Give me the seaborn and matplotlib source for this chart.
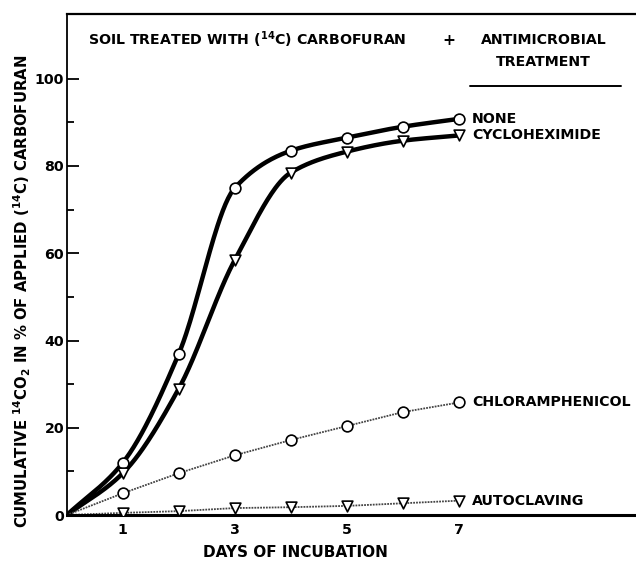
#%% import tools and libraries
import numpy as np
import pandas as pd
import seaborn as sb
import matplotlib
matplotlib.use('Agg')
import matplotlib.pyplot as plt
from matplotlib.lines import Line2D

#%% data (% of applied 14C released as 14CO2)
days = [0, 1, 2, 3, 4, 5, 6, 7]
none = [0, 12, 37, 75, 83.5, 86.5, 89, 90.8]
cycloheximide = [0, 9.6, 29, 58.5, 78.5, 83.3, 85.8, 87]
chloramphenicol = [0, 5.0, 9.6, 13.7, 17.2, 20.4, 23.6, 25.8]
autoclaving = [0, 0.5, 0.9, 1.6, 1.8, 2.1, 2.7, 3.3]

treatments = ['NONE', 'CYCLOHEXIMIDE', 'CHLORAMPHENICOL', 'AUTOCLAVING']
series = [none, cycloheximide, chloramphenicol, autoclaving]
x_ticks = [1, 3, 5, 7]
y_ticks = [0, 20, 40, 60, 80, 100]

df = pd.DataFrame({'Day': days * 4,
                   'Value': sum(series, []),
                   'Treatment': np.repeat(treatments, len(days))})


#%% smooth curve through measured points (monotone cubic, for drawing only)
def pchip(x, y, xs):
    x = np.asarray(x, float)
    y = np.asarray(y, float)
    h = np.diff(x)
    d = np.diff(y) / h
    m = np.zeros_like(y)
    m[0] = d[0]
    m[-1] = d[-1]
    for k in range(1, len(x) - 1):
        if d[k - 1] * d[k] > 0:
            w1 = 2 * h[k] + h[k - 1]
            w2 = h[k] + 2 * h[k - 1]
            m[k] = (w1 + w2) / (w1 / d[k - 1] + w2 / d[k])
    idx = np.clip(np.searchsorted(x, xs) - 1, 0, len(x) - 2)
    t = (xs - x[idx]) / h[idx]
    h00 = 2 * t**3 - 3 * t**2 + 1
    h10 = t**3 - 2 * t**2 + t
    h01 = -2 * t**3 + 3 * t**2
    h11 = t**3 - t**2
    return (h00 * y[idx] + h10 * h[idx] * m[idx]
            + h01 * y[idx + 1] + h11 * h[idx] * m[idx + 1])


#%% plot
sb.set_style('ticks')
plt.rcParams['font.family'] = ['DejaVu Sans']
plt.rcParams['font.weight'] = 'bold'
plt.rcParams['mathtext.fontset'] = 'custom'
plt.rcParams['mathtext.rm'] = 'DejaVu Sans:bold'
plt.rcParams['mathtext.it'] = 'DejaVu Sans:bold'
plt.rcParams['mathtext.bf'] = 'DejaVu Sans:bold'
for key in ['text.color', 'axes.labelcolor', 'xtick.color', 'ytick.color', 'axes.edgecolor']:
    plt.rcParams[key] = 'black'
fs = 10.2

fig = plt.figure(figsize=(6.36, 5.66), dpi=100)
ax = fig.add_axes([0.105, 0.090, 0.895, 0.885])

# thick smooth curves for NONE and CYCLOHEXIMIDE
xs = np.linspace(0, 7, 300)
for name in treatments[:2]:
    sub = df[df['Treatment'] == name]
    smooth = pd.DataFrame({'Day': xs, 'Value': pchip(sub['Day'], sub['Value'], xs)})
    sb.lineplot(data=smooth, x='Day', y='Value', ax=ax, color='black',
                linewidth=3.2, solid_capstyle='round')

# thin dotted lines for CHLORAMPHENICOL and AUTOCLAVING
for name in treatments[2:]:
    sub = df[df['Treatment'] == name]
    sb.lineplot(data=sub, x='Day', y='Value', ax=ax, color='#444444',
                linewidth=1.3, linestyle=(0, (1, 0.6)))

# open markers + end labels
markers = {'NONE': 'o', 'CYCLOHEXIMIDE': 'v', 'CHLORAMPHENICOL': 'o', 'AUTOCLAVING': 'v'}
for name in treatments:
    sub = df[(df['Treatment'] == name) & (df['Day'] > 0)]
    sb.scatterplot(data=sub, x='Day', y='Value', ax=ax, marker=markers[name],
                   s=60, facecolor='white', edgecolor='black', linewidth=1.2,
                   zorder=5)
    last = sub.iloc[-1]
    ax.text(last['Day'] + 0.23, last['Value'], name, fontsize=fs,
            fontweight='bold', va='center', ha='left')

ax.set_xlim(0, 10.16)
ax.set_ylim(0, 114.8)
ax.set_xticks(x_ticks)
ax.set_yticks(y_ticks)
ax.set_yticks(np.arange(10, 100, 20), minor=True)
ax.tick_params(axis='y', which='major', direction='in', length=8.5, width=1.3,
               labelsize=10.2, pad=2)
ax.tick_params(axis='y', which='minor', direction='in', length=5, width=1.3)
ax.tick_params(axis='x', length=0, labelsize=10.2, pad=6)
for lab in ax.get_xticklabels() + ax.get_yticklabels():
    lab.set_fontweight('bold')

ax.spines['right'].set_visible(False)
ax.spines['left'].set_linewidth(1.3)
ax.spines['top'].set_linewidth(1.6)
ax.spines['bottom'].set_linewidth(2.2)
ax.set_xlabel('')
ax.set_ylabel('')

# axis titles
fig.text(0.464, 0.023, 'DAYS OF INCUBATION', fontsize=fs + 0.8, fontweight='bold',
         ha='center', va='center')
fig.text(0.035, 0.485, 'CUMULATIVE $^{14}$CO$_2$ IN % OF APPLIED ($^{14}$C) CARBOFURAN',
         fontsize=10.7, fontweight='bold', rotation=90, ha='center', va='center')

# header
fig.text(0.138, 0.929, 'SOIL TREATED WITH ($^{14}$C) CARBOFURAN', fontsize=fs,
         fontweight='bold', ha='left', va='center')
fig.text(0.706, 0.929, '+', fontsize=fs + 1, fontweight='bold', ha='center', va='center')
fig.text(0.855, 0.929, 'ANTIMICROBIAL', fontsize=fs, fontweight='bold',
         ha='center', va='center')
fig.text(0.855, 0.890, 'TREATMENT', fontsize=fs, fontweight='bold',
         ha='center', va='center')
fig.add_artist(Line2D([0.739, 0.976], [0.848, 0.848], color='black', linewidth=1.4))

fig.savefig('out.png', dpi=100)
